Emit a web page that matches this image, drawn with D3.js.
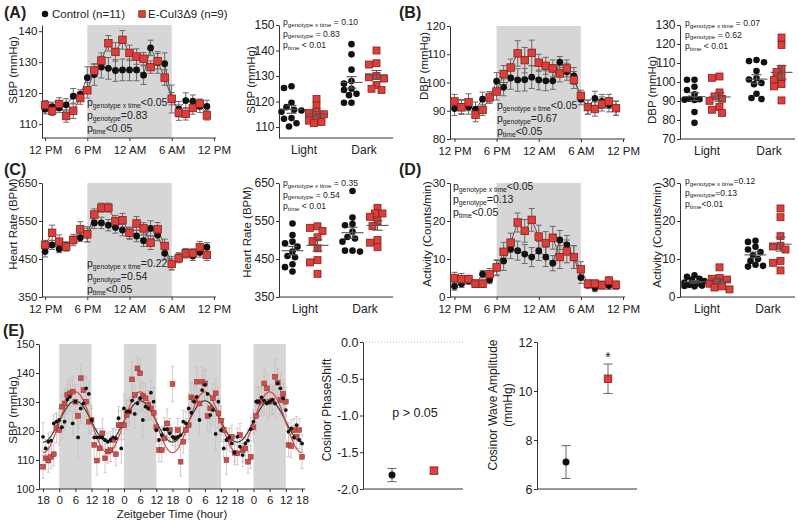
<!DOCTYPE html>
<html><head><meta charset="utf-8">
<script src="https://cdn.jsdelivr.net/npm/d3@7/dist/d3.min.js"></script>
<style>
body{margin:0;background:#fff}
svg{display:block}
text{font-family:"Liberation Sans",Arial,Helvetica,sans-serif;fill:#222}
</style></head><body>
<svg id="c" width="798" height="522"></svg>
<script>
// ---------------- DATA ----------------
const hours=[0,1,2,3,4,5,6,7,8,9,10,11,12,13,14,15,16,17,18,19,20,21,22,23];
const timeTicks=[0,6,12,18,24];
const timeLabels=["12 PM","6 PM","12 AM","6 AM","12 PM"];
const groups=["Light","Dark"];
const legendLabels=["Control (n=11)","E-Cul3\u03949 (n=9)"];

// A: SBP hourly
const sbpCtrl=[114.8,115.6,115.2,116.2,119.0,119.6,125.0,126.0,128.4,128.0,127.3,127.5,127.5,127.5,125.8,134.6,129.9,129.5,118.1,114.8,117.6,117.4,115.7,115.7];
const sbpCtrlErr=[1.5,1.5,1.5,2,2.5,1.5,3.5,3.5,3.5,3.5,3.5,3.5,3.5,3.5,3,2.5,3.5,3.5,4.5,2.5,2.5,2,2,2];
const sbpRed=[116.1,114.3,116.5,112.6,114.3,118.4,120.9,127.3,130.5,136.1,133.3,137.2,133.0,131.8,131.1,128.4,130.3,125.0,118.2,113.7,113.3,115.2,116.6,112.8];
const sbpRedErr=[1.5,1.5,2,2,2.5,2,2.5,2,2.5,2.5,3,3,2.5,2.5,2,2,2.5,2.5,2,2.5,2,2,1.5,1.5];
// B: DBP hourly
const dbpCtrl=[90.8,91.5,91.3,90.6,94.1,94.7,100.5,98.3,101.6,100.9,101.0,101.9,100.9,100.6,100.6,107.2,103.8,102.3,94.1,91.3,94.4,93.3,92.1,90.9];
const dbpCtrlErr=[2.5,2.5,2.5,2.5,2.5,2,3,3,4,4,4,4,3.5,3.5,3,2,3,3,2,2.5,2.5,2.5,2.5,2.5];
const dbpRed=[93.3,91.2,93.0,88.6,90.3,94.7,96.8,103.0,105.3,110.3,107.9,110.5,107.0,105.9,105.0,103.2,105.0,100.9,95.3,91.3,90.6,92.4,93.3,90.9];
const dbpRedErr=[2.5,2.5,3,2.5,2,2,3,3,3,4.5,4.5,4.5,3,3,3,3,3,3,2,2.5,2.5,2.5,2.5,2.5];
// C: Heart rate hourly
const hrCtrl=[469.5,487,476.5,485,500,506,513,545,545,539,533,526,517,510.5,498,530.5,513,465,439,454.5,465,458,467,481];
const hrCtrlErr=[14,12,10,10,10,10,18,15,15,15,15,15,15,15,15,20,15,15,18,12,12,12,12,12];
const hrRed=[487,519,495.6,482.5,500,528,515,567,585,585,549.7,552,519,543.6,530.5,493,528,484.3,437,452,465,465,481,460.8];
const hrRedErr=[12,20,18,12,15,20,20,15,12,12,15,18,15,18,15,18,18,18,15,12,12,12,15,15];
// D: Activity hourly
const actCtrl=[2.8,3.5,4.3,3.5,6.0,4.5,7.6,9.5,12.6,12.2,11.3,10.5,12.1,10.5,8.9,15.0,13.7,10.5,5.1,3.2,2.4,3.2,3.0,3.0];
const actCtrlErr=[1,1,1,1,1,1,2,2.5,2.5,2.5,2.5,2.5,2.5,2.5,2,2.5,2.5,3,1.5,1,1,1,1,1];
const actRed=[5.0,4.7,4.7,3.5,3.5,6.0,7.8,11.9,14.3,19.6,17.4,20.3,15.9,14.2,15.6,10.5,12.0,10.5,7.3,3.5,3.5,3.1,4.3,3.2];
const actRedErr=[1.5,1.5,1,1,1,1.5,2,2.5,2.5,2.5,3,3,3,3,3,3,3,3,2,1,1,1,1,1];

// Individual animals (scatter panels)
const sbpLightCtrl=[126.0,125.3,119.5,117.8,116.8,116.5,116.0,113.5,113.2,111.5,110.2];
const sbpLightRed=[121.0,118.5,116.0,115.5,115.0,113.5,112.5,112.0,111.5];
const sbpDarkCtrl=[142.5,138.5,132.5,128.0,127.0,125.0,124.5,123.0,122.5,119.5,119.5];
const sbpDarkRed=[140.0,135.0,134.5,130.0,129.5,129.0,126.5,125.0,124.5];
const dbpLightCtrl=[101.2,101.2,97.5,95.8,93.5,91.2,90.9,90.7,90.5,84.2,78.5];
const dbpLightRed=[102.9,102.2,94.5,92.4,91.2,90.1,86.8,85.4,83.7];
const dbpDarkCtrl=[111.6,111.0,110.4,105.8,102.0,101.3,99.5,98.8,93.8,91.6,91.0];
const dbpDarkRed=[123.4,119.5,107.0,105.2,102.6,101.0,98.9,97.7,90.3];
const hrLightCtrl=[543.6,513,495.6,491,482.5,469.5,458,454.7,436.3,428.5,417];
const hrLightRed=[536,532,524,507,497,478,447,441,411];
const hrDarkCtrl=[629,559,542,539,522,508,504,495.6,472,472,469.5];
const hrDarkRed=[584.6,569.8,569.8,561,549.7,536.5,500,493,481];
const actLightCtrl=[5.7,5.3,4.8,4.5,4.2,3.8,3.5,3.2,3.0,2.9,2.8];
const actLightRed=[7.8,5.0,4.8,4.6,4.0,3.5,2.8,2.5,2.0];
const actDarkCtrl=[14.8,14.5,13.2,12.5,11.8,11.0,10.0,9.5,8.5,8.2,8.0];
const actDarkRed=[23.3,21.0,16.0,13.5,13.3,12.5,9.5,9.0,7.0];

// p-value annotations
const pA=[["genotype x time","<0.05"],["genotype","=0.83"],["time","<0.05"]];
const pA2=[["genotype x time"," = 0.10"],["genotype"," = 0.83"],["time"," < 0.01"]];
const pB=[["genotype x time","<0.05"],["genotype","=0.67"],["time","<0.05"]];
const pB2=[["genotype x time"," = 0.07"],["genotype"," = 0.62"],["time"," < 0.01"]];
const pC=[["genotype x time","=0.22"],["genotype","=0.54"],["time","<0.05"]];
const pC2=[["genotype x time"," = 0.35"],["genotype"," = 0.54"],["time"," < 0.01"]];
const pD=[["genotype x time","<0.05"],["genotype","=0.13"],["time","<0.05"]];
const pD2=[["genotype x time","=0.12"],["genotype","=0.13"],["time","<0.01"]];

// E: Zeitgeber time series (t = -6 .. 90 h)
const ztTicks=[-6,0,6,12,18,24,30,36,42,48,54,60,66,72,78,84,90];
const ztLabels=["18","0","6","12","18","0","6","12","18","0","6","12","18","0","6","12","18"];
const ztHours=[-6,-5,-4,-3,-2,-1,0,1,2,3,4,5,6,7,8,9,10,11,12,13,14,15,16,17,18,19,20,21,22,23,24,25,26,27,28,29,30,31,32,33,34,35,36,37,38,39,40,41,42,43,44,45,46,47,48,49,50,51,52,53,54,55,56,57,58,59,60,61,62,63,64,65,66,67,68,69,70,71,72,73,74,75,76,77,78,79,80,81,82,83,84,85,86,87,88,89,90];
const ztCtrl=[118.0,114.0,116.3,116.7,122.6,123.2,
 123.8,121.3,123.2,130.9,131.8,122.6,130.1,117.8,127.8,129.5,134.7,132.8,
 123.8,117.8,117.8,117.8,117.8,116.9,116.3,116.9,117.8,117.5,124.4,114.0,
 127.8,126.7,126.7,130.5,125.9,129.5,131.3,123.8,128.4,127.8,133.2,130.1,
 120.3,116.9,118.6,120.6,120.6,119.2,118.0,117.5,118.0,118.6,123.2,122.6,
 127.8,126.3,130.1,131.8,123.8,134.1,135.9,132.8,125.5,127.2,119.0,130.1,
 120.3,114.0,116.9,117.8,115.7,112.5,118.0,114.6,111.7,115.7,116.7,120.6,
 123.2,130.1,130.1,131.6,130.5,129.5,130.1,130.7,129.5,136.4,134.7,131.3,
 127.2,119.8,120.9,117.8,122.0,116.9,115.7];
const ztCtrlErr=[5,3,3,3,3,3,
 4,4,3,5,5,4,6,7,5,5,4,4,
 4,3,3,3,3,3,3,3,3,3,4,5,
 5,4,4,5,5,4,5,6,5,4,4,5,
 4,3,3,4,3,3,3,3,3,3,4,4,
 5,4,5,5,5,5,5,5,6,5,6,5,
 4,3,3,3,3,3,3,3,4,3,4,4,
 4,5,5,5,5,6,6,5,5,5,5,5,
 4,3,3,4,3,3,3];
const ztRed=[107.7,110.6,109.8,111.1,112.0,121.0,
 120.3,128.4,129.5,132.4,133.0,133.6,130.1,125.2,138.2,134.1,130.1,123.2,
 123.8,115.2,109.8,114.0,119.2,110.6,112.9,113.4,116.9,112.0,122.0,122.0,
 122.0,125.5,126.7,137.8,132.4,141.6,139.9,132.1,131.3,129.0,127.8,126.3,
 121.3,113.4,113.4,117.5,122.6,120.3,136.2,117.5,120.3,109.4,116.3,120.3,
 122.0,131.6,130.9,137.0,129.5,137.0,136.4,125.2,127.8,131.3,133.0,126.1,
 123.6,120.3,110.0,117.1,118.0,112.5,112.3,118.6,113.4,114.0,109.4,111.1,
 121.3,125.2,130.1,130.1,136.4,134.7,130.1,130.5,138.7,136.7,130.7,132.8,
 130.1,115.2,114.8,120.3,118.0,120.3,111.1];
const ztRedErr=[4,4,4,4,4,5,
 5,4,5,5,5,5,4,4,5,5,5,4,
 5,5,5,4,5,5,4,4,4,4,5,5,
 5,5,5,6,5,4,5,5,5,5,4,5,
 5,4,4,4,5,4,6,4,4,5,4,4,
 5,5,5,5,5,5,5,5,5,5,5,5,
 5,4,5,4,4,4,4,4,4,4,4,4,
 5,5,5,5,5,5,5,5,6,5,5,5,
 5,4,4,4,4,4,4];

// Cosinor fit parameters and summary
const cosMesor=[123.3,123.0];
const cosAcrophase=[6.0,6.0];
const phaseMean=[-1.81,-1.75];
const phaseErr=[0.09,0.04];
const ampMean=[7.1,10.5];
const ampErr=[0.67,0.6];

// ---------------- DRAWING ----------------
const svg=d3.select("#c");
const RED="#d9403c", REDS="#8e1d1b", GREY="#d6d6d6", AX="#333";
const TF=11.5;

function styleAxis(g,fs){
  g.selectAll("path.domain").attr("stroke",AX);
  g.selectAll(".tick line").attr("stroke",AX);
  g.selectAll(".tick text").style("font-size",fs+"px").attr("fill","#222");
}
function marker(g,type,x,y,s){
  if(type==="c"){
    g.append("circle").attr("cx",x).attr("cy",y).attr("r",s/2).attr("fill","#111");
  }else{
    g.append("rect").attr("x",x-s/2).attr("y",y-s/2).attr("width",s).attr("height",s)
     .attr("fill",RED).attr("stroke",REDS).attr("stroke-width",0.8);
  }
}
function errBar(g,x,y1,y2,cap,col,w){
  g.append("line").attr("x1",x).attr("x2",x).attr("y1",y1).attr("y2",y2).attr("stroke",col).attr("stroke-width",w);
  [y1,y2].forEach(yy=>g.append("line").attr("x1",x-cap).attr("x2",x+cap).attr("y1",yy).attr("y2",yy).attr("stroke",col).attr("stroke-width",w));
}
function ptext(g,x,y,lines,fs,sfs,lh,col){
  lines.forEach((l,i)=>{
    const t=g.append("text").attr("x",x).attr("y",y+i*lh).style("font-size",fs+"px").attr("fill",col);
    t.append("tspan").text("p");
    t.append("tspan").attr("dy",fs*0.22).style("font-size",sfs+"px").text(l[0]);
    t.append("tspan").attr("dy",-fs*0.22).text(l[1]);
  });
}
function ytitle(x,yc,txt,fs){
  svg.append("text").attr("transform",`translate(${x},${yc}) rotate(-90)`).attr("text-anchor","middle")
    .style("font-size",fs+"px").text(txt);
}
function panelLabel(x,y,t){
  svg.append("text").attr("x",x).attr("y",y).style("font-size","16px").style("font-weight","bold").text(t);
}

function drawLine(cfg){
  const g=svg.append("g");
  const x=d3.scaleLinear().domain([0,24]).range([cfg.x0,cfg.x24]);
  const y=d3.scaleLinear().domain(cfg.dom).range([cfg.yBot,cfg.yTop]);
  g.append("rect").attr("x",x(6)).attr("y",cfg.yTop).attr("width",x(18)-x(6)).attr("height",cfg.yBot-cfg.yTop).attr("fill",GREY);
  const ya=g.append("g").attr("transform",`translate(${cfg.ax},0)`)
    .call(d3.axisLeft(y).tickValues(cfg.ticks).tickSize(3).tickSizeOuter(0).tickPadding(1.5));
  styleAxis(ya,TF);
  const xa=g.append("g").attr("transform",`translate(0,${cfg.yBot})`)
    .call(d3.axisBottom(x).tickValues(timeTicks).tickFormat((d,i)=>timeLabels[i]).tickSize(3).tickPadding(5));
  xa.select("path.domain").remove();
  styleAxis(xa,TF);
  g.append("line").attr("x1",cfg.ax).attr("x2",x(24)+2).attr("y1",cfg.yBot).attr("y2",cfg.yBot).attr("stroke",AX);
  const series=[[cfg.ctrl,cfg.ctrlErr,"c",6.8],[cfg.red,cfg.redErr,"r",7.5]];
  series.forEach(([v,e])=>{
    hours.forEach((h,i)=>errBar(g,x(h),y(v[i]-e[i]),y(v[i]+e[i]),3,"#6a6a6a",1));
  });
  series.forEach(([v])=>{
    g.append("path").datum(hours).attr("fill","none").attr("stroke","#555").attr("stroke-width",1)
     .attr("d",d3.line().x(h=>x(h)).y((h,i)=>y(v[i])));
  });
  series.forEach(([v,e,t,s])=>{
    hours.forEach((h,i)=>marker(g,t,x(h),y(v[i]),s));
  });
  ptext(g,cfg.px,cfg.py,cfg.p,10.5,6.8,cfg.lh||13,"#333");
}

// compact beeswarm: spread points sideways, at most ±10 px
function swarm(vals,y,cx){
  const pts=vals.map(v=>({v,py:y(v)})).sort((a,b)=>a.py-b.py);
  const placed=[];
  const offs=[0,-2.5,2.5,-5,5,-7.5,7.5,-10,10];
  pts.forEach(p=>{
    let best=null,bestD=-1;
    for(const o of offs){
      const px=cx+o;
      const d=placed.length?d3.min(placed,q=>Math.hypot(q.px-px,q.py-p.py)):99;
      if(d>=6){best=px;bestD=d;break;}
      if(d>bestD){bestD=d;best=px;}
    }
    p.px=best;placed.push(p);
  });
  return pts;
}

function drawScatter(cfg){
  const g=svg.append("g");
  const y=d3.scaleLinear().domain(cfg.dom).range([cfg.yBot,cfg.yTop]);
  const xg=d3.scalePoint().domain(groups).range(cfg.gx);
  const ya=g.append("g").attr("transform",`translate(${cfg.ax},0)`)
    .call(d3.axisLeft(y).tickValues(cfg.ticks).tickSize(3).tickSizeOuter(0).tickPadding(1.5));
  styleAxis(ya,12);
  g.append("line").attr("x1",cfg.ax).attr("x2",cfg.xEnd).attr("y1",cfg.yBot).attr("y2",cfg.yBot).attr("stroke",AX);
  groups.forEach(gr=>{
    g.append("text").attr("x",xg(gr)).attr("y",cfg.yBot+15.5).attr("text-anchor","middle").style("font-size","12px").text(gr);
  });
  const sets=[[cfg.data[0],groups[0],"c",-12.5],[cfg.data[1],groups[0],"r",12.5],[cfg.data[2],groups[1],"c",-12.5],[cfg.data[3],groups[1],"r",12.5]];
  sets.forEach(([vals,gr,t,off])=>{
    const cx=xg(gr)+off;
    const pts=swarm(vals,y,cx);
    pts.forEach(p=>marker(g,t,p.px,p.py,t==="c"?6.6:7));
    const m=d3.mean(vals), se=d3.deviation(vals)/Math.sqrt(vals.length);
    g.append("line").attr("x1",cx-11).attr("x2",cx+11).attr("y1",y(m)).attr("y2",y(m)).attr("stroke","#555").attr("stroke-width",1.1);
    errBar(g,cx,y(m-se),y(m+se),5,"#555",1.1);
  });
  ptext(g,cfg.px,cfg.py,cfg.p,8.6,6.2,11.5,"#555");
}

// legend & panel labels
panelLabel(4,18,"(A)"); panelLabel(399,18,"(B)"); panelLabel(4,175,"(C)"); panelLabel(399,175,"(D)"); panelLabel(3,336,"(E)");
marker(svg,"c",45,14,6.5); svg.append("text").attr("x",52).attr("y",18).style("font-size","11.5px").text(legendLabels[0]);
marker(svg,"r",142,14,6.5); svg.append("text").attr("x",148).attr("y",18).style("font-size","11.5px").text(legendLabels[1]);

// A
drawLine({x0:45.1,x24:213.9,ax:42,yTop:25,yBot:138,dom:[105.5,142],ticks:[110,120,130,140],
  ctrl:sbpCtrl,ctrlErr:sbpCtrlErr,red:sbpRed,redErr:sbpRedErr,p:pA,px:87,py:106});
ytitle(17,70,"SBP (mmHg)",11.5);
drawScatter({ax:279,xEnd:393,yTop:25,yBot:138,dom:[105.7,150],ticks:[110,120,130,140,150],gx:[304,364],
  data:[sbpLightCtrl,sbpLightRed,sbpDarkCtrl,sbpDarkRed],p:pA2,px:283,py:25});
ytitle(255,80,"SBP (mmHg)",11.5);
// B
drawLine({x0:454.5,x24:623,ax:450,yTop:26,yBot:139,dom:[80,120],ticks:[80,90,100,110,120],
  ctrl:dbpCtrl,ctrlErr:dbpCtrlErr,red:dbpRed,redErr:dbpRedErr,p:pB,px:497,py:109,lh:12.8});
ytitle(428,66,"DBP (mmHg)",11.5);
drawScatter({ax:680,xEnd:795,yTop:25,yBot:139,dom:[70,130],ticks:[70,80,90,100,110,120,130],gx:[707,769],
  data:[dbpLightCtrl,dbpLightRed,dbpDarkCtrl,dbpDarkRed],p:pB2,px:685,py:26});
ytitle(656,90,"DBP (mmHg)",11.5);
// C
drawLine({x0:45.1,x24:213.9,ax:42,yTop:183,yBot:297,dom:[350,650],ticks:[350,450,550,650],
  ctrl:hrCtrl,ctrlErr:hrCtrlErr,red:hrRed,redErr:hrRedErr,p:pC,px:87,py:267,lh:12.8});
ytitle(17,224,"Heart Rate (BPM)",11.5);
drawScatter({ax:279,xEnd:393,yTop:183,yBot:297,dom:[350,650],ticks:[350,450,550,650],gx:[305,365],
  data:[hrLightCtrl,hrLightRed,hrDarkCtrl,hrDarkRed],p:pC2,px:283,py:186});
ytitle(251,232,"Heart Rate (BPM)",11.5);
// D
drawLine({x0:454.5,x24:623,ax:450,yTop:183,yBot:297,dom:[0,30],ticks:[0,10,20,30],
  ctrl:actCtrl,ctrlErr:actCtrlErr,red:actRed,redErr:actRedErr,p:pD,px:453,py:190,lh:12.8});
ytitle(431,234,"Activity (Counts/min)",11.5);
drawScatter({ax:680,xEnd:795,yTop:183,yBot:297,dom:[0,30],ticks:[0,10,20,30],gx:[707,768],
  data:[actLightCtrl,actLightRed,actDarkCtrl,actDarkRed],p:pD2,px:685,py:184});
ytitle(661,235,"Activity (Counts/min)",11.5);

// E time series
(function(){
  const g=svg.append("g");
  const x=d3.scaleLinear().domain([-6,90]).range([43,302]);
  const y=d3.scaleLinear().domain([100,150]).range([489,344]);
  [0,24,48,72].forEach(s=>g.append("rect").attr("x",x(s)).attr("y",344).attr("width",x(s+12)-x(s)).attr("height",145).attr("fill",GREY));
  const ya=g.append("g").attr("transform","translate(39,0)")
    .call(d3.axisLeft(y).tickValues([100,110,120,130,140,150]).tickSize(3).tickSizeOuter(0).tickPadding(1.5));
  styleAxis(ya,11);
  const xa=g.append("g").attr("transform","translate(0,489)")
    .call(d3.axisBottom(x).tickValues(ztTicks).tickFormat((d,i)=>ztLabels[i]).tickSize(3).tickPadding(4));
  xa.select("path.domain").remove();
  styleAxis(xa,11.5);
  g.append("line").attr("x1",39).attr("x2",x(90)+3).attr("y1",489).attr("y2",489).attr("stroke",AX);
  ztHours.forEach((t,i)=>{
    errBar(g,x(t),y(ztCtrl[i]-ztCtrlErr[i]),y(ztCtrl[i]+ztCtrlErr[i]),1.6,"#c2c2c2",0.8);
    errBar(g,x(t),y(ztRed[i]-ztRedErr[i]),y(ztRed[i]+ztRedErr[i]),1.6,"#ccbcbc",0.8);
  });
  const fine=d3.range(-6,90.01,0.25);
  [[0,"#3a3a3a"],[1,"#d24a46"]].forEach(([k,col])=>{
    g.append("path").datum(fine).attr("fill","none").attr("stroke",col).attr("stroke-width",1.2)
     .attr("d",d3.line().x(t=>x(t)).y(t=>y(cosMesor[k]+ampMean[k]*Math.cos(2*Math.PI*(t-cosAcrophase[k])/24))));
  });
  ztHours.forEach((t,i)=>{
    g.append("rect").attr("x",x(t)-2.4).attr("y",y(ztRed[i])-2.4).attr("width",4.8).attr("height",4.8).attr("fill","#c9504c").attr("stroke","#8e2a28").attr("stroke-width",0.5);
  });
  ztHours.forEach((t,i)=>{
    g.append("circle").attr("cx",x(t)).attr("cy",y(ztCtrl[i])).attr("r",1.9).attr("fill","#111");
  });
  ytitle(17,410,"SBP (mmHg)",11.5);
  svg.append("text").attr("x",172).attr("y",518).attr("text-anchor","middle").style("font-size","11.5px").text("Zeitgeber Time (hour)");
})();

// Phase shift
(function(){
  const g=svg.append("g");
  const y=d3.scaleLinear().domain([-2,0]).range([489,342]);
  const xs=[392,434];
  g.append("line").attr("x1",363).attr("x2",463).attr("y1",y(0)).attr("y2",y(0)).attr("stroke","#bbb").attr("stroke-dasharray","1,2");
  const ya=g.append("g").attr("transform","translate(363,0)")
    .call(d3.axisLeft(y).tickValues([-2,-1.5,-1,-0.5,0]).tickSize(3).tickSizeOuter(0).tickPadding(1.5));
  styleAxis(ya,12.5);
  ya.selectAll(".tick text").text(d=>d3.format(".1f")(d).replace("\u2212","-"));
  g.append("line").attr("x1",363).attr("x2",463).attr("y1",489).attr("y2",489).attr("stroke",AX);
  phaseMean.forEach((m,i)=>{
    errBar(g,xs[i],y(m-phaseErr[i]),y(m+phaseErr[i]),4.5,"#666",1);
    marker(g,i?"r":"c",xs[i],y(m),i?7.5:7);
  });
  g.append("text").attr("x",415).attr("y",417).attr("text-anchor","middle").style("font-size","12.5px").text("p > 0.05");
  ytitle(331,410,"Cosinor PhaseShift",12);
})();

// Amplitude
(function(){
  const g=svg.append("g");
  const y=d3.scaleLinear().domain([6,12]).range([489,342]);
  const xs=[566,608];
  const ya=g.append("g").attr("transform","translate(537,0)")
    .call(d3.axisLeft(y).tickValues([6,8,10,12]).tickFormat(d3.format("d")).tickSize(3).tickSizeOuter(0).tickPadding(1.5));
  styleAxis(ya,12.5);
  g.append("line").attr("x1",537).attr("x2",637).attr("y1",489).attr("y2",489).attr("stroke",AX);
  ampMean.forEach((m,i)=>{
    errBar(g,xs[i],y(m-ampErr[i]),y(m+ampErr[i]),4.5,"#666",1);
    marker(g,i?"r":"c",xs[i],y(m),i?7.5:7);
  });
  g.append("text").attr("x",608).attr("y",362).attr("text-anchor","middle").style("font-size","14px").text("*");
  ytitle(497,405,"Cosinor Wave Amplitude",12);
  ytitle(512,405,"(mmHg)",12);
})();
</script></body></html>
